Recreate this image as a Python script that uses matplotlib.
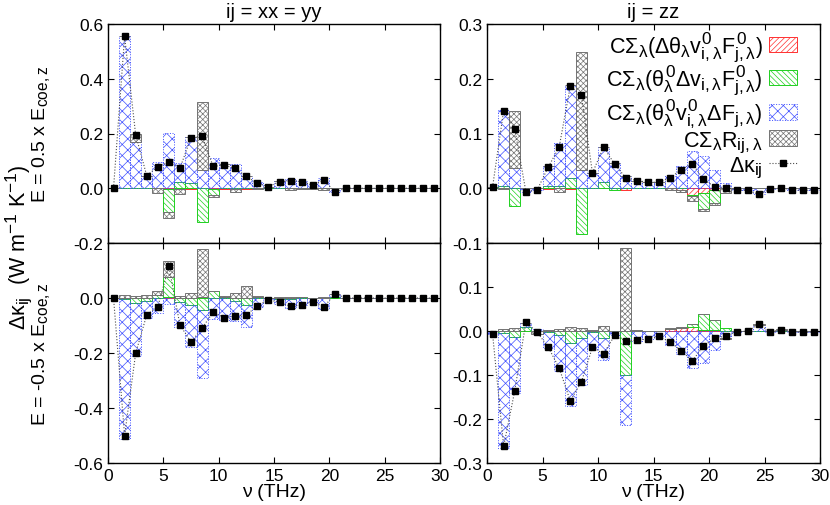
import matplotlib
matplotlib.use('Agg')
import matplotlib.pyplot as plt
import matplotlib.patches as mpatches
import matplotlib._mathtext as mathtext_core
from matplotlib.lines import Line2D
import numpy as np

plt.rcParams['font.family'] = ['Liberation Sans', 'DejaVu Sans']
plt.rcParams['mathtext.fontset'] = 'custom'
plt.rcParams['mathtext.rm'] = 'Liberation Sans'
plt.rcParams['mathtext.it'] = 'Liberation Sans'
plt.rcParams['mathtext.bf'] = 'Liberation Sans:bold'
plt.rcParams['axes.unicode_minus'] = False
plt.rcParams['hatch.linewidth'] = 0.5
# gnuplot-like larger sub/superscripts
mathtext_core.SHRINK_FACTOR = 0.8

# frequency bins (THz), 1 THz wide
freq = np.arange(30) + 0.5

# ij = xx = yy, E = +0.5
xx_p_red   = [0, 0, 0, 0, 0, -0.003, -0.003, -0.004, 0, -0.003, -0.004, -0.003, -0.003, 0, 0, 0, 0, 0, 0, 0, 0, 0, 0, 0, 0, 0, 0, 0, 0, 0]
xx_p_green = [0, 0.002, 0, 0, 0, -0.085, 0.022, 0.020, -0.124, -0.020, 0, 0, 0, 0, 0, 0, 0, 0, 0, 0, 0, 0, 0, 0, 0, 0, 0, 0, 0, 0]
xx_p_blue  = [0, 0.553, 0.168, 0.046, 0.095, 0.201, 0.069, 0.169, 0.067, 0.110, 0.088, 0.087, 0.046, 0.022, 0.006, 0.026, 0.034, 0.028, 0.016, 0.037, -0.014, 0, 0, 0, 0, 0, 0, 0, 0, 0]
xx_p_gray  = [0, 0, 0.029, 0, -0.016, -0.021, -0.017, 0, 0.248, -0.009, 0, -0.012, 0, -0.004, 0, 0, -0.006, -0.004, -0.004, -0.007, 0, 0, 0, 0, 0, 0, 0, 0, 0, 0]
xx_p_dk    = [0, 0.555, 0.195, 0.046, 0.079, 0.095, 0.073, 0.185, 0.191, 0.080, 0.084, 0.073, 0.043, 0.018, 0.006, 0.024, 0.028, 0.024, 0.012, 0.030, -0.013, 0, 0, 0, 0, 0, 0, 0, 0, 0]

# ij = xx = yy, E = -0.5
xx_m_red   = [0, 0, 0, 0, 0, 0.005, 0, 0, 0.004, 0, 0, 0, 0, 0, 0, 0, 0, 0, 0, 0, 0, 0, 0, 0, 0, 0, 0, 0, 0, 0]
xx_m_green = [0, -0.002, -0.018, -0.010, 0.012, 0.071, -0.016, -0.024, -0.043, 0.024, 0.004, -0.010, -0.027, 0.002, 0, -0.003, -0.004, 0.002, 0, 0, 0.003, 0, 0, 0, 0, 0, 0, 0, 0, 0]
xx_m_blue  = [0, -0.511, -0.192, -0.064, -0.055, -0.020, -0.088, -0.153, -0.247, -0.077, -0.079, -0.075, -0.077, -0.034, -0.005, -0.017, -0.033, -0.024, -0.015, -0.040, 0.012, 0, 0, 0, 0, 0, 0, 0, 0, 0]
xx_m_gray  = [0, 0.012, 0.007, 0.012, 0.012, 0.058, 0.006, 0.018, 0.176, 0.003, 0.004, 0.020, 0.043, 0.004, 0, 0.003, 0.004, 0.002, 0, 0.004, 0, 0, 0, 0, 0, 0, 0, 0, 0, 0]
xx_m_dk    = [0, -0.500, -0.201, -0.061, -0.032, 0.115, -0.098, -0.160, -0.110, -0.051, -0.071, -0.066, -0.062, -0.028, -0.006, -0.016, -0.030, -0.024, -0.013, -0.033, 0.015, 0, 0, 0, 0, 0, 0, 0, 0, 0]

# ij = zz, E = +0.5
zz_p_red   = [0, 0, 0, 0, 0, -0.002, 0, -0.002, 0, 0, 0, 0, -0.003, 0, 0, 0, 0, -0.003, -0.012, -0.009, -0.003, 0, 0, 0, 0, 0, 0, 0, 0, 0]
zz_p_green = [0, 0.004, -0.032, 0, 0, 0.004, 0.005, 0.019, -0.083, 0, 0.011, -0.003, 0, 0, 0, 0, 0, 0, -0.003, -0.028, -0.024, 0, 0, 0, 0, 0, 0, 0, 0, 0]
zz_p_blue  = [0.002, 0.139, 0.037, -0.006, -0.004, 0.036, 0.077, 0.169, 0.034, 0.028, 0.064, 0.047, 0.022, 0.014, 0.011, 0.012, 0.022, 0.041, 0.068, 0.058, 0.033, 0.009, -0.003, -0.004, -0.011, -0.002, 0.001, -0.003, -0.004, -0.003]
zz_p_gray  = [0, -0.001, 0.104, 0, 0, 0, -0.007, 0, 0.215, 0, 0, 0, 0, 0, 0, 0, -0.003, -0.004, -0.008, -0.005, -0.004, -0.008, 0, 0, 0, 0, 0, 0, 0, 0]
zz_p_dk    = [0.002, 0.142, 0.109, -0.006, -0.004, 0.038, 0.075, 0.186, 0.170, 0.028, 0.075, 0.044, 0.019, 0.014, 0.011, 0.011, 0.019, 0.034, 0.045, 0.016, 0.003, 0.001, -0.003, -0.004, -0.011, -0.002, 0.001, -0.003, -0.004, -0.003]

# ij = zz, E = -0.5
zz_m_red   = [0, 0, 0, 0, 0, 0, 0, 0, 0, 0, 0, 0, 0, 0, 0, 0, 0.004, 0.006, 0.010, 0.003, 0.002, 0, 0, 0, 0, 0, 0, 0, 0, 0]
zz_m_green = [0, -0.005, -0.014, 0.008, 0, -0.002, -0.008, -0.027, -0.015, -0.003, -0.017, 0, -0.100, 0, 0, 0, 0, 0, 0.005, 0.035, 0.023, 0.007, 0, 0, 0, 0, 0, 0, 0, 0]
zz_m_blue  = [-0.006, -0.260, -0.127, 0.011, 0.004, -0.036, -0.083, -0.143, -0.107, -0.037, -0.048, -0.010, -0.113, -0.022, -0.019, -0.012, -0.031, -0.053, -0.085, -0.072, -0.043, -0.016, -0.002, 0, 0.013, -0.002, 0.003, -0.002, -0.003, -0.002]
zz_m_gray  = [0, 0.004, 0.006, 0, -0.006, 0.002, 0.005, 0.010, 0.007, 0.003, 0.012, 0, 0.189, 0.002, 0.001, 0, 0.002, 0.002, 0.002, 0, 0.001, -0.002, 0, 0, 0.002, 0, 0.001, 0, 0, 0]
zz_m_dk    = [-0.006, -0.262, -0.136, 0.020, -0.002, -0.036, -0.084, -0.159, -0.116, -0.037, -0.052, -0.010, -0.023, -0.021, -0.018, -0.012, -0.025, -0.045, -0.068, -0.034, -0.017, -0.011, -0.002, 0, 0.015, -0.002, 0.003, -0.002, -0.003, -0.002]

labels = [r'$\mathrm{C}\Sigma_\lambda(\Delta\theta_\lambda v^0_{i,\lambda}F^0_{j,\lambda})$',
          r'$\mathrm{C}\Sigma_\lambda(\theta^0_\lambda\Delta v_{i,\lambda}F^0_{j,\lambda})$',
          r'$\mathrm{C}\Sigma_\lambda(\theta^0_\lambda v^0_{i,\lambda}\Delta F_{j,\lambda})$',
          r'$\mathrm{C}\Sigma_\lambda R_{ij,\lambda}$']
dk_label = r'$\Delta\kappa_{ij}$'

styles = [dict(ec='#ff3030', hatch='//////', ls='-'),
          dict(ec='#20d020', hatch='\\\\\\\\\\\\', ls='-'),
          dict(ec='#4050ff', hatch='xxx', ls=':'),
          dict(ec='0.45', hatch='xxxxxx', ls='-')]

TICK = 12.5


def draw(ax, comps, dk):
    pos = np.zeros(len(freq))
    neg = np.zeros(len(freq))
    for vals, st in zip(comps, styles):
        vals = np.asarray(vals, dtype=float)
        base = np.where(vals >= 0, pos, neg)
        ax.bar(freq, vals, width=1.0, bottom=base, facecolor='none',
               edgecolor=st['ec'], hatch=st['hatch'], linewidth=0.7,
               linestyle=st['ls'])
        pos = pos + np.clip(vals, 0, None)
        neg = neg + np.clip(vals, None, 0)
    ax.plot(freq, dk, linestyle=':', color='0.3', lw=0.8, marker='s',
            ms=4, mfc='k', mec='k', zorder=5)
    ax.set_xlim(0, 30)
    ax.set_xticks(range(0, 31, 5))
    ax.tick_params(direction='in', top=True, right=True, length=4.5,
                   labelsize=TICK, width=0.8)
    for sp in ax.spines.values():
        sp.set_linewidth(1.0)


def set_y(ax, lo, hi, step, hide_top=False):
    ax.set_ylim(lo, hi)
    ticks = np.round(np.arange(lo, hi + step / 2, step), 2)
    ax.set_yticks(ticks)
    lab = ['%.1f' % t for t in ticks]
    if hide_top:
        lab[-1] = ''
    ax.set_yticklabels(lab)


fig = plt.figure(figsize=(8.3, 5.06), dpi=100)
W, H = 830.0, 506.0
ax_lt = fig.add_axes([108 / W, 1 - 244 / H, 332 / W, 219 / H])
ax_lb = fig.add_axes([108 / W, 1 - 464 / H, 332 / W, 220 / H])
ax_rt = fig.add_axes([487 / W, 1 - 244 / H, 333 / W, 219 / H])
ax_rb = fig.add_axes([487 / W, 1 - 464 / H, 333 / W, 220 / H])

draw(ax_lt, [xx_p_red, xx_p_green, xx_p_blue, xx_p_gray], xx_p_dk)
draw(ax_lb, [xx_m_red, xx_m_green, xx_m_blue, xx_m_gray], xx_m_dk)
draw(ax_rt, [zz_p_red, zz_p_green, zz_p_blue, zz_p_gray], zz_p_dk)
draw(ax_rb, [zz_m_red, zz_m_green, zz_m_blue, zz_m_gray], zz_m_dk)

set_y(ax_lt, -0.2, 0.6, 0.2)
set_y(ax_lb, -0.6, 0.2, 0.2, hide_top=True)
set_y(ax_rt, -0.1, 0.3, 0.1)
set_y(ax_rb, -0.3, 0.2, 0.1, hide_top=True)

for ax in (ax_lt, ax_rt):
    ax.tick_params(labelbottom=False)
for ax in (ax_lb, ax_rb):
    ax.set_xlabel(r'ν (THz)', fontsize=14, labelpad=0)

ax_lt.set_title('ij = xx = yy', fontsize=14.5, pad=5)
ax_rt.set_title('ij = zz', fontsize=14.5, pad=5)
ax_lt.set_ylabel(r'E = 0.5 x E$_{\mathrm{coe,z}}$', fontsize=14)
ax_lb.set_ylabel(r'E = -0.5 x E$_{\mathrm{coe,z}}$', fontsize=14)
ax_lt.yaxis.set_label_coords(-0.17, 0.5)
ax_lb.yaxis.set_label_coords(-0.17, 0.5)

fig.text(18 / W, 1 - 247 / H,
         r'$\Delta\kappa_{ij}$  (W m$^{-1}$ K$^{-1}$)',
         rotation=90, ha='center', va='center', fontsize=15.5)

handles = [mpatches.Patch(facecolor='none', edgecolor=st['ec'], hatch=st['hatch'],
                          linewidth=0.7, linestyle=st['ls']) for st in styles]
handles.append(Line2D([], [], linestyle=':', color='0.3', lw=0.8, marker='s',
                      ms=4, mfc='k', mec='k'))
ax_rt.legend(handles, labels + [dk_label], loc='upper right',
             bbox_to_anchor=(0.931, 0.975), frameon=False, borderpad=0,
             borderaxespad=0, markerfirst=False, fontsize=15.5,
             handlelength=1.3, handleheight=0.7, labelspacing=0.0,
             handletextpad=0.3)

fig.savefig('out.png', dpi=100)
